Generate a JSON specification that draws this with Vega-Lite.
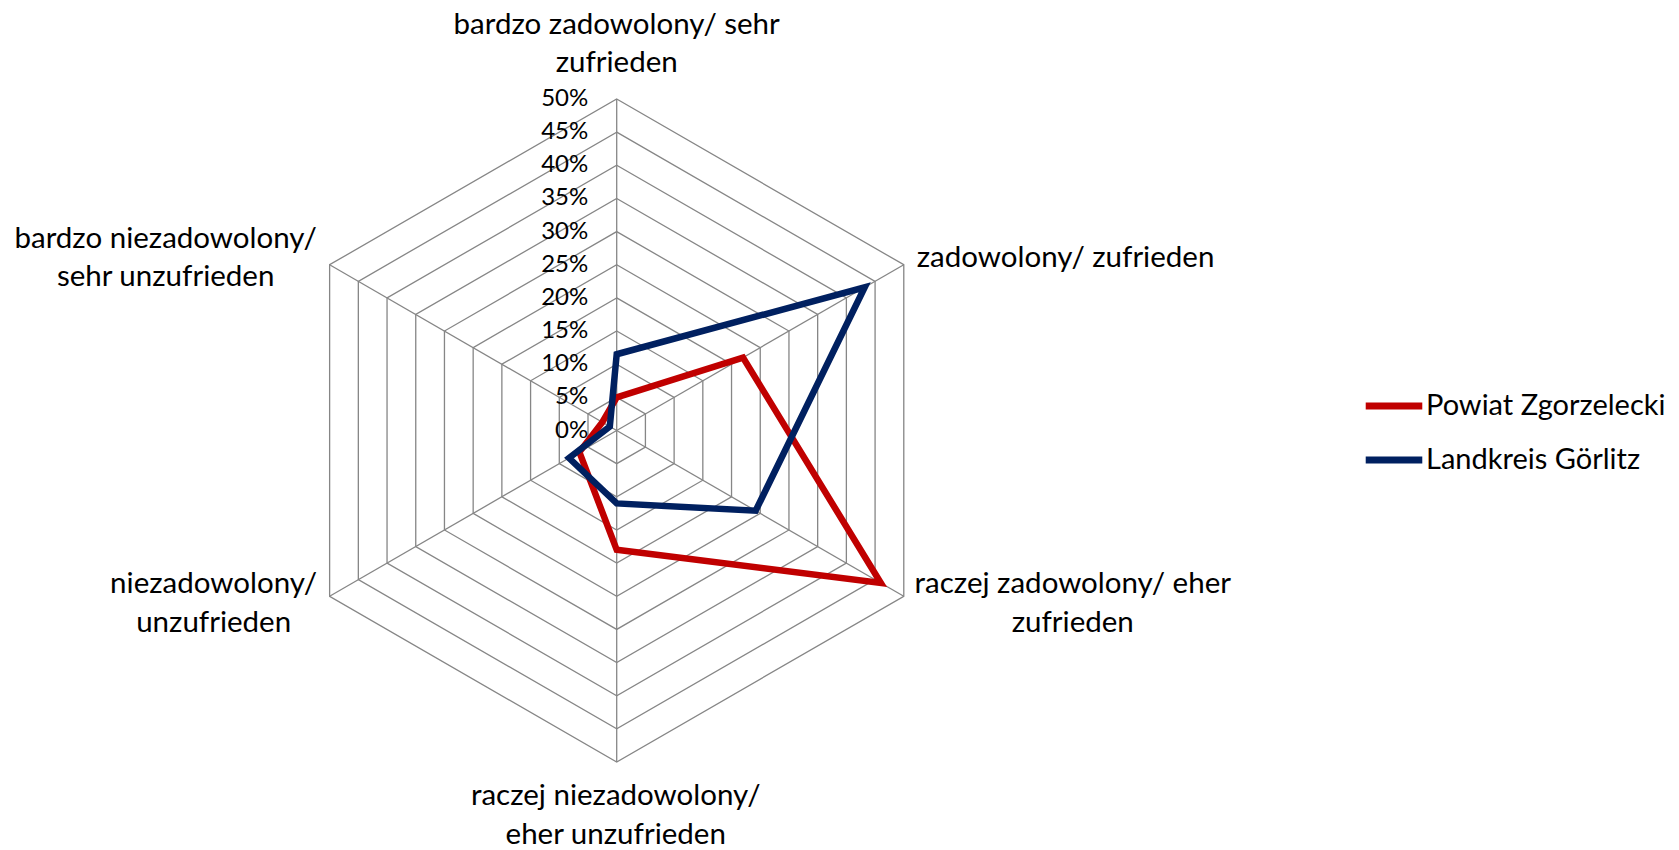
{
  "$schema": "https://vega.github.io/schema/vega-lite/v6.json",
  "width": 1679,
  "height": 850,
  "autosize": "none",
  "padding": 0,
  "background": "white",
  "config": {"view": {"stroke": null}, "font": "Lato", "text": {"font": "Lato", "color": "black"}},
  "datasets": {
    "series": [
      {"series": "Powiat Zgorzelecki", "cat": "bardzo zadowolony/ sehr zufrieden", "value": 0.05},
      {"series": "Powiat Zgorzelecki", "cat": "zadowolony/ zufrieden", "value": 0.22},
      {"series": "Powiat Zgorzelecki", "cat": "raczej zadowolony/ eher zufrieden", "value": 0.46},
      {"series": "Powiat Zgorzelecki", "cat": "raczej niezadowolony/ eher unzufrieden", "value": 0.18},
      {"series": "Powiat Zgorzelecki", "cat": "niezadowolony/ unzufrieden", "value": 0.065},
      {"series": "Powiat Zgorzelecki", "cat": "bardzo niezadowolony/ sehr unzufrieden", "value": 0.025},
      {"series": "Landkreis Görlitz", "cat": "bardzo zadowolony/ sehr zufrieden", "value": 0.115},
      {"series": "Landkreis Görlitz", "cat": "zadowolony/ zufrieden", "value": 0.432},
      {"series": "Landkreis Görlitz", "cat": "raczej zadowolony/ eher zufrieden", "value": 0.242},
      {"series": "Landkreis Görlitz", "cat": "raczej niezadowolony/ eher unzufrieden", "value": 0.11},
      {"series": "Landkreis Görlitz", "cat": "niezadowolony/ unzufrieden", "value": 0.083},
      {"series": "Landkreis Görlitz", "cat": "bardzo niezadowolony/ sehr unzufrieden", "value": 0.012}
    ],
    "grid": [
      {"level": 0.05, "cat": ["bardzo zadowolony/ sehr zufrieden", "zadowolony/ zufrieden", "raczej zadowolony/ eher zufrieden", "raczej niezadowolony/ eher unzufrieden", "niezadowolony/ unzufrieden", "bardzo niezadowolony/ sehr unzufrieden"]},
      {"level": 0.10, "cat": ["bardzo zadowolony/ sehr zufrieden", "zadowolony/ zufrieden", "raczej zadowolony/ eher zufrieden", "raczej niezadowolony/ eher unzufrieden", "niezadowolony/ unzufrieden", "bardzo niezadowolony/ sehr unzufrieden"]},
      {"level": 0.15, "cat": ["bardzo zadowolony/ sehr zufrieden", "zadowolony/ zufrieden", "raczej zadowolony/ eher zufrieden", "raczej niezadowolony/ eher unzufrieden", "niezadowolony/ unzufrieden", "bardzo niezadowolony/ sehr unzufrieden"]},
      {"level": 0.20, "cat": ["bardzo zadowolony/ sehr zufrieden", "zadowolony/ zufrieden", "raczej zadowolony/ eher zufrieden", "raczej niezadowolony/ eher unzufrieden", "niezadowolony/ unzufrieden", "bardzo niezadowolony/ sehr unzufrieden"]},
      {"level": 0.25, "cat": ["bardzo zadowolony/ sehr zufrieden", "zadowolony/ zufrieden", "raczej zadowolony/ eher zufrieden", "raczej niezadowolony/ eher unzufrieden", "niezadowolony/ unzufrieden", "bardzo niezadowolony/ sehr unzufrieden"]},
      {"level": 0.30, "cat": ["bardzo zadowolony/ sehr zufrieden", "zadowolony/ zufrieden", "raczej zadowolony/ eher zufrieden", "raczej niezadowolony/ eher unzufrieden", "niezadowolony/ unzufrieden", "bardzo niezadowolony/ sehr unzufrieden"]},
      {"level": 0.35, "cat": ["bardzo zadowolony/ sehr zufrieden", "zadowolony/ zufrieden", "raczej zadowolony/ eher zufrieden", "raczej niezadowolony/ eher unzufrieden", "niezadowolony/ unzufrieden", "bardzo niezadowolony/ sehr unzufrieden"]},
      {"level": 0.40, "cat": ["bardzo zadowolony/ sehr zufrieden", "zadowolony/ zufrieden", "raczej zadowolony/ eher zufrieden", "raczej niezadowolony/ eher unzufrieden", "niezadowolony/ unzufrieden", "bardzo niezadowolony/ sehr unzufrieden"]},
      {"level": 0.45, "cat": ["bardzo zadowolony/ sehr zufrieden", "zadowolony/ zufrieden", "raczej zadowolony/ eher zufrieden", "raczej niezadowolony/ eher unzufrieden", "niezadowolony/ unzufrieden", "bardzo niezadowolony/ sehr unzufrieden"]},
      {"level": 0.50, "cat": ["bardzo zadowolony/ sehr zufrieden", "zadowolony/ zufrieden", "raczej zadowolony/ eher zufrieden", "raczej niezadowolony/ eher unzufrieden", "niezadowolony/ unzufrieden", "bardzo niezadowolony/ sehr unzufrieden"]}
    ],
    "ticks": [
      {"level": 0}, {"level": 0.05}, {"level": 0.10}, {"level": 0.15}, {"level": 0.20}, {"level": 0.25},
      {"level": 0.30}, {"level": 0.35}, {"level": 0.40}, {"level": 0.45}, {"level": 0.50}
    ],
    "labels": [
      {"cat": "bardzo zadowolony/ sehr zufrieden", "label": "bardzo zadowolony/ sehr\nzufrieden"},
      {"cat": "zadowolony/ zufrieden", "label": "zadowolony/ zufrieden"},
      {"cat": "raczej zadowolony/ eher zufrieden", "label": "raczej zadowolony/ eher\nzufrieden"},
      {"cat": "raczej niezadowolony/ eher unzufrieden", "label": "raczej niezadowolony/\neher unzufrieden"},
      {"cat": "niezadowolony/ unzufrieden", "label": "niezadowolony/\nunzufrieden"},
      {"cat": "bardzo niezadowolony/ sehr unzufrieden", "label": "bardzo niezadowolony/\nsehr unzufrieden"}
    ]
  },
  "layer": [
    {
      "data": {"name": "grid"},
      "transform": [
        {"flatten": ["cat"]},
        {"calculate": "indexof(['bardzo zadowolony/ sehr zufrieden','zadowolony/ zufrieden','raczej zadowolony/ eher zufrieden','raczej niezadowolony/ eher unzufrieden','niezadowolony/ unzufrieden','bardzo niezadowolony/ sehr unzufrieden'], datum.cat)", "as": "idx"},
        {"calculate": "datum.level * sin(datum.idx * PI / 3)", "as": "px"},
        {"calculate": "datum.level * cos(datum.idx * PI / 3)", "as": "py"}
      ],
      "mark": {"type": "line", "interpolate": "linear-closed", "stroke": "#868686", "strokeWidth": 1.3},
      "encoding": {
        "x": {"field": "px", "type": "quantitative", "scale": {"domain": [-0.9302, 1.6023], "nice": false, "zero": false}, "axis": null},
        "y": {"field": "py", "type": "quantitative", "scale": {"domain": [-0.6327, 0.6493], "nice": false, "zero": false}, "axis": null},
        "detail": {"field": "level", "type": "nominal"},
        "order": {"field": "idx", "type": "quantitative"}
      }
    },
    {
      "data": {"name": "labels"},
      "transform": [
        {"calculate": "indexof(['bardzo zadowolony/ sehr zufrieden','zadowolony/ zufrieden','raczej zadowolony/ eher zufrieden','raczej niezadowolony/ eher unzufrieden','niezadowolony/ unzufrieden','bardzo niezadowolony/ sehr unzufrieden'], datum.cat)", "as": "idx"},
        {"calculate": "0.5 * sin(datum.idx * PI / 3)", "as": "px"},
        {"calculate": "0.5 * cos(datum.idx * PI / 3)", "as": "py"},
        {"calculate": "0", "as": "origin"}
      ],
      "mark": {"type": "rule", "stroke": "#868686", "strokeWidth": 1.3},
      "encoding": {
        "x": {"field": "origin", "type": "quantitative"},
        "y": {"field": "origin", "type": "quantitative"},
        "x2": {"field": "px"},
        "y2": {"field": "py"}
      }
    },
    {
      "data": {"name": "ticks"},
      "transform": [{"calculate": "0", "as": "origin"}],
      "mark": {"type": "text", "align": "right", "baseline": "middle", "dx": -28.5, "fontSize": 24},
      "encoding": {
        "x": {"field": "origin", "type": "quantitative"},
        "y": {"field": "level", "type": "quantitative"},
        "text": {"field": "level", "type": "quantitative", "format": ".0%"}
      }
    },
    {
      "data": {"name": "series"},
      "transform": [
        {"calculate": "indexof(['bardzo zadowolony/ sehr zufrieden','zadowolony/ zufrieden','raczej zadowolony/ eher zufrieden','raczej niezadowolony/ eher unzufrieden','niezadowolony/ unzufrieden','bardzo niezadowolony/ sehr unzufrieden'], datum.cat)", "as": "idx"},
        {"calculate": "datum.value * sin(datum.idx * PI / 3)", "as": "px"},
        {"calculate": "datum.value * cos(datum.idx * PI / 3)", "as": "py"}
      ],
      "mark": {"type": "line", "interpolate": "linear-closed", "strokeWidth": 6.5, "strokeJoin": "miter"},
      "encoding": {
        "x": {"field": "px", "type": "quantitative"},
        "y": {"field": "py", "type": "quantitative"},
        "order": {"field": "idx", "type": "quantitative"},
        "color": {
          "field": "series", "type": "nominal",
          "scale": {"domain": ["Powiat Zgorzelecki", "Landkreis Görlitz"], "range": ["#C00000", "#002060"]},
          "legend": {
            "title": null, "orient": "none", "legendX": 1362, "legendY": 374,
            "symbolType": "stroke", "symbolStrokeWidth": 7, "symbolSize": 3200,
            "labelFontSize": 29, "labelFont": "Lato", "labelColor": "black", "labelOffset": 0,
            "labelLimit": 500, "rowPadding": 7
          }
        }
      }
    },
    {
      "data": {"name": "labels"},
      "transform": [
        {"calculate": "indexof(['bardzo zadowolony/ sehr zufrieden','zadowolony/ zufrieden','raczej zadowolony/ eher zufrieden','raczej niezadowolony/ eher unzufrieden','niezadowolony/ unzufrieden','bardzo niezadowolony/ sehr unzufrieden'], datum.cat)", "as": "idx"},
        {"calculate": "0.5 * sin(datum.idx * PI / 3)", "as": "px"},
        {"calculate": "0.5 * cos(datum.idx * PI / 3)", "as": "py"}
      ],
      "encoding": {
        "x": {"field": "px", "type": "quantitative"},
        "y": {"field": "py", "type": "quantitative"},
        "text": {"field": "label", "type": "nominal"}
      },
      "layer": [
        {"transform": [{"filter": "datum.idx == 0"}], "mark": {"type": "text", "align": "center", "baseline": "middle", "lineBreak": "\n", "lineHeight": 38.5, "fontSize": 29.5, "dx": 0, "dy": -74}},
        {"transform": [{"filter": "datum.idx == 1"}], "mark": {"type": "text", "align": "left", "baseline": "middle", "lineBreak": "\n", "lineHeight": 38.5, "fontSize": 29.5, "dx": 13, "dy": -7}},
        {"transform": [{"filter": "datum.idx == 2"}], "mark": {"type": "text", "align": "center", "baseline": "middle", "lineBreak": "\n", "lineHeight": 38.5, "fontSize": 29.5, "dx": 169, "dy": -12}},
        {"transform": [{"filter": "datum.idx == 3"}], "mark": {"type": "text", "align": "center", "baseline": "middle", "lineBreak": "\n", "lineHeight": 38.5, "fontSize": 29.5, "dx": -1, "dy": 34}},
        {"transform": [{"filter": "datum.idx == 4"}], "mark": {"type": "text", "align": "center", "baseline": "middle", "lineBreak": "\n", "lineHeight": 38.5, "fontSize": 29.5, "dx": -116, "dy": -12}},
        {"transform": [{"filter": "datum.idx == 5"}], "mark": {"type": "text", "align": "center", "baseline": "middle", "lineBreak": "\n", "lineHeight": 38.5, "fontSize": 29.5, "dx": -164, "dy": -26}}
      ]
    }
  ]
}
